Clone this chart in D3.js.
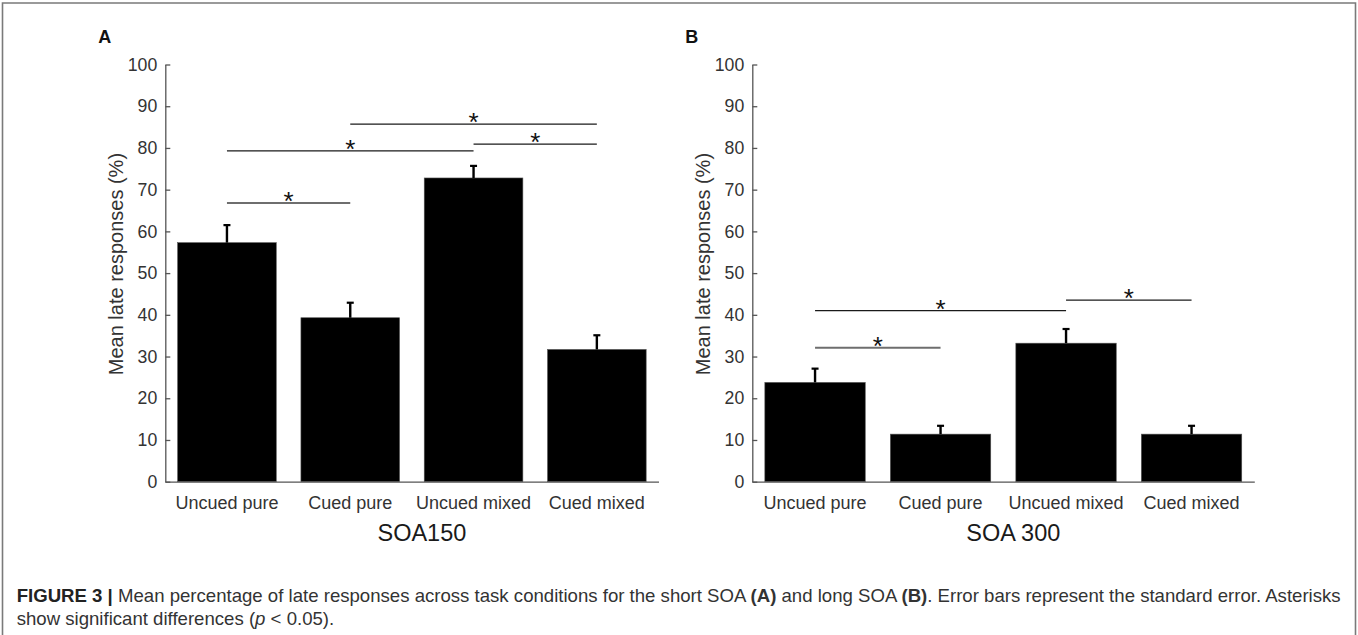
<!DOCTYPE html>
<html>
<head>
<meta charset="utf-8">
<script src="https://cdn.jsdelivr.net/npm/d3@7"></script>
<style>
  body { margin: 0; background: #fff; }
  svg { display: block; font-family: "Liberation Sans", Arial, sans-serif; }
</style>
</head>
<body>
<script>
const categories = ["Uncued pure", "Cued pure", "Uncued mixed", "Cued mixed"];
const yTicks = [0, 10, 20, 30, 40, 50, 60, 70, 80, 90, 100];

// SOA 150 (panel A)
const meansA = [57.3, 39.3, 72.8, 31.7];
const errA = [4.2, 3.6, 2.9, 3.4];
const sigA = [
  { from: 0, to: 1, level: 66.8, grey: true },
  { from: 0, to: 2, level: 79.3 },
  { from: 1, to: 3, level: 85.7 },
  { from: 2, to: 3, level: 80.9 }
];

// SOA 300 (panel B)
const meansB = [23.8, 11.4, 33.2, 11.4];
const errB = [3.3, 2.0, 3.4, 2.0];
const sigB = [
  { from: 0, to: 1, level: 32.1, grey: true },
  { from: 0, to: 2, level: 41.0 },
  { from: 2, to: 3, level: 43.5 }
];

const W = 1358, H = 635;

const svg = d3.select("body").append("svg")
  .attr("width", W)
  .attr("height", H);

// frame round the figure
svg.append("path")
  .attr("d", "M2.5,640 V3 H1355.5 V640")
  .attr("fill", "none")
  .attr("stroke", "#7a7a7a")
  .attr("stroke-width", 1.6);

const y = d3.scaleLinear().domain([0, 100]).range([481.7, 64.5]);

function drawPanel(opt) {
  const x = d3.scaleBand()
    .domain(categories)
    .range([opt.x0, opt.x1])
    .paddingInner(0.2)
    .paddingOuter(0.1);

  const g = svg.append("g");

  // bars
  g.selectAll("rect.bar")
    .data(opt.means)
    .enter().append("rect")
    .attr("class", "bar")
    .attr("x", (d, i) => x(categories[i]))
    .attr("y", d => y(d))
    .attr("width", x.bandwidth())
    .attr("height", d => y(0) - y(d))
    .attr("fill", "#000")
    .attr("stroke", "#555")
    .attr("stroke-width", 0.6);

  // error bars (upper only)
  const eb = g.selectAll("g.err")
    .data(opt.means)
    .enter().append("g")
    .attr("class", "err")
    .attr("transform", (d, i) => "translate(" + (x(categories[i]) + x.bandwidth() / 2) + ",0)");
  eb.append("line")
    .attr("y1", d => y(d))
    .attr("y2", (d, i) => y(d + opt.err[i]))
    .attr("stroke", "#000")
    .attr("stroke-width", 2.4);
  eb.append("line")
    .attr("x1", -3.5).attr("x2", 3.5)
    .attr("y1", (d, i) => y(d + opt.err[i]))
    .attr("y2", (d, i) => y(d + opt.err[i]))
    .attr("stroke", "#000")
    .attr("stroke-width", 2.2);

  // y axis, ticks pointing inward
  const yAxis = g.append("g")
    .attr("transform", "translate(" + opt.x0 + ",0)")
    .call(d3.axisLeft(y).tickValues(yTicks).tickSizeInner(-5).tickSizeOuter(0).tickPadding(8));
  yAxis.select(".domain").attr("stroke", "#555").attr("stroke-width", 1.3);
  yAxis.selectAll(".tick line").attr("stroke", "#555").attr("stroke-width", 1.3);
  yAxis.selectAll(".tick text")
    .attr("font-size", 17.7)
    .attr("font-family", "Liberation Sans, Arial, sans-serif")
    .attr("fill", "#333");

  // x axis baseline + category labels
  const xAxis = g.append("g")
    .attr("transform", "translate(0," + y(0) + ")")
    .call(d3.axisBottom(x).tickSize(0).tickSizeOuter(0).tickPadding(15));
  xAxis.select(".domain").attr("stroke", "#555").attr("stroke-width", 1.3);
  xAxis.selectAll(".tick text")
    .attr("font-size", 18)
    .attr("font-family", "Liberation Sans, Arial, sans-serif")
    .attr("fill", "#333");

  // y title
  g.append("text")
    .attr("transform", "translate(" + (opt.x0 - 42) + "," + ((y(0) + y(100)) / 2 - 9) + ") rotate(-90)")
    .attr("text-anchor", "middle")
    .attr("font-size", 20)
    .attr("fill", "#333")
    .text("Mean late responses (%)");

  // condition title
  g.append("text")
    .attr("x", (opt.x0 + opt.x1) / 2 + 10)
    .attr("y", 541)
    .attr("text-anchor", "middle")
    .attr("font-size", 23.5)
    .attr("fill", "#1a1a1a")
    .text(opt.title);

  // panel letter
  g.append("text")
    .attr("x", opt.x0 - 67)
    .attr("y", 43.3)
    .attr("font-size", 18)
    .attr("font-weight", "bold")
    .attr("fill", "#111")
    .text(opt.letter);

  // significance lines
  const cx = i => x(categories[i]) + x.bandwidth() / 2;
  const sg = g.selectAll("g.sig")
    .data(opt.sig)
    .enter().append("g")
    .attr("class", "sig");
  sg.append("line")
    .attr("x1", d => cx(d.from))
    .attr("x2", d => cx(d.to))
    .attr("y1", d => y(d.level))
    .attr("y2", d => y(d.level))
    .attr("stroke", d => d.grey ? "#6e6e6e" : "#1a1a1a")
    .attr("stroke-width", d => d.grey ? 1.9 : 1.2);
  sg.append("text")
    .attr("x", d => (cx(d.from) + cx(d.to)) / 2)
    .attr("y", d => y(d.level) + 7)
    .attr("text-anchor", "middle")
    .attr("font-size", 26)
    .attr("fill", "#111")
    .text("*");
}

drawPanel({ x0: 165.3, x1: 658.5, means: meansA, err: errA, sig: sigA, title: "SOA150", letter: "A" });
drawPanel({ x0: 752.3, x1: 1254.3, means: meansB, err: errB, sig: sigB, title: "SOA 300", letter: "B" });

// caption
const cap = svg.append("text")
  .attr("x", 16.7)
  .attr("y", 602)
  .attr("font-size", 18.6)
  .attr("fill", "#333");
cap.append("tspan").attr("font-weight", "bold").attr("fill", "#222").text("FIGURE 3 | ");
cap.append("tspan").text("Mean percentage of late responses across task conditions for the short SOA ");
cap.append("tspan").attr("font-weight", "bold").text("(A)");
cap.append("tspan").text(" and long SOA ");
cap.append("tspan").attr("font-weight", "bold").text("(B)");
cap.append("tspan").text(". Error bars represent the standard error. Asterisks");

const cap2 = svg.append("text")
  .attr("x", 16.7)
  .attr("y", 625)
  .attr("font-size", 18.6)
  .attr("fill", "#333");
cap2.append("tspan").text("show significant differences (");
cap2.append("tspan").attr("font-style", "italic").text("p");
cap2.append("tspan").text(" < 0.05).");
</script>
</body>
</html>
